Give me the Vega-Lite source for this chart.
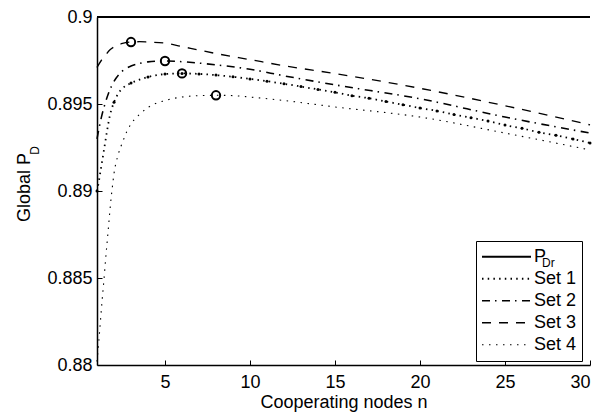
{
  "$schema": "https://vega.github.io/schema/vega-lite/v6.json",
  "width": 493,
  "height": 348,
  "autosize": {"type": "none"},
  "padding": {"left": 97, "top": 17, "right": 26, "bottom": 52},
  "config": {
    "view": {"stroke": null},
    "font": "Liberation Sans",
    "axis": {
      "grid": false,
      "domain": true,
      "domainColor": "#000",
      "domainWidth": 1.5,
      "tickColor": "#000",
      "tickWidth": 1,
      "tickSize": -5,
      "labelColor": "#000",
      "labelFont": "Liberation Sans",
      "labelFontSize": 18,
      "titleFont": "Liberation Sans",
      "titleFontSize": 18,
      "titleFontWeight": "normal",
      "titleColor": "#000"
    }
  },
  "datasets": {
    "curves": [
      {"n": 1, "y": 0.9, "series": "P_Dr"},
      {"n": 30, "y": 0.9, "series": "P_Dr"},
      {"n": 1, "y": 0.8900, "series": "Set 1"},
      {"n": 1.1, "y": 0.8905, "series": "Set 1"},
      {"n": 1.2, "y": 0.8911, "series": "Set 1"},
      {"n": 1.3, "y": 0.8917, "series": "Set 1"},
      {"n": 1.4, "y": 0.8923, "series": "Set 1"},
      {"n": 1.5, "y": 0.8929, "series": "Set 1"},
      {"n": 1.6, "y": 0.8935, "series": "Set 1"},
      {"n": 1.75, "y": 0.8943, "series": "Set 1"},
      {"n": 2, "y": 0.8951, "series": "Set 1"},
      {"n": 2.25, "y": 0.8956, "series": "Set 1"},
      {"n": 2.5, "y": 0.8959, "series": "Set 1"},
      {"n": 3, "y": 0.8962, "series": "Set 1"},
      {"n": 3.5, "y": 0.8964, "series": "Set 1"},
      {"n": 4, "y": 0.89655, "series": "Set 1"},
      {"n": 5, "y": 0.89672, "series": "Set 1"},
      {"n": 6, "y": 0.89676, "series": "Set 1"},
      {"n": 7, "y": 0.89673, "series": "Set 1"},
      {"n": 8, "y": 0.89666, "series": "Set 1"},
      {"n": 9, "y": 0.89656, "series": "Set 1"},
      {"n": 10, "y": 0.89644, "series": "Set 1"},
      {"n": 11, "y": 0.89631, "series": "Set 1"},
      {"n": 12, "y": 0.89616, "series": "Set 1"},
      {"n": 13, "y": 0.896, "series": "Set 1"},
      {"n": 14, "y": 0.89584, "series": "Set 1"},
      {"n": 15, "y": 0.89567, "series": "Set 1"},
      {"n": 16, "y": 0.89548, "series": "Set 1"},
      {"n": 17, "y": 0.89533, "series": "Set 1"},
      {"n": 18, "y": 0.89514, "series": "Set 1"},
      {"n": 19, "y": 0.89496, "series": "Set 1"},
      {"n": 20, "y": 0.89477, "series": "Set 1"},
      {"n": 21, "y": 0.8946, "series": "Set 1"},
      {"n": 22, "y": 0.89439, "series": "Set 1"},
      {"n": 23, "y": 0.89421, "series": "Set 1"},
      {"n": 24, "y": 0.89402, "series": "Set 1"},
      {"n": 25, "y": 0.89379, "series": "Set 1"},
      {"n": 26, "y": 0.8936, "series": "Set 1"},
      {"n": 27, "y": 0.89337, "series": "Set 1"},
      {"n": 28, "y": 0.8932, "series": "Set 1"},
      {"n": 29, "y": 0.89299, "series": "Set 1"},
      {"n": 30, "y": 0.89276, "series": "Set 1"},
      {"n": 1, "y": 0.8930, "series": "Set 2"},
      {"n": 1.25, "y": 0.8942, "series": "Set 2"},
      {"n": 1.5, "y": 0.8951, "series": "Set 2"},
      {"n": 1.75, "y": 0.8958, "series": "Set 2"},
      {"n": 2, "y": 0.8963, "series": "Set 2"},
      {"n": 2.5, "y": 0.8969, "series": "Set 2"},
      {"n": 3, "y": 0.89718, "series": "Set 2"},
      {"n": 3.5, "y": 0.89733, "series": "Set 2"},
      {"n": 4, "y": 0.89742, "series": "Set 2"},
      {"n": 5, "y": 0.89747, "series": "Set 2"},
      {"n": 6, "y": 0.89743, "series": "Set 2"},
      {"n": 7, "y": 0.89735, "series": "Set 2"},
      {"n": 8, "y": 0.89725, "series": "Set 2"},
      {"n": 10, "y": 0.897, "series": "Set 2"},
      {"n": 12, "y": 0.89662, "series": "Set 2"},
      {"n": 15, "y": 0.8961, "series": "Set 2"},
      {"n": 20, "y": 0.8953, "series": "Set 2"},
      {"n": 25, "y": 0.89425, "series": "Set 2"},
      {"n": 30, "y": 0.89333, "series": "Set 2"},
      {"n": 1, "y": 0.8971, "series": "Set 3"},
      {"n": 1.25, "y": 0.8975, "series": "Set 3"},
      {"n": 1.5, "y": 0.8978, "series": "Set 3"},
      {"n": 1.75, "y": 0.8981, "series": "Set 3"},
      {"n": 2, "y": 0.89828, "series": "Set 3"},
      {"n": 2.5, "y": 0.89848, "series": "Set 3"},
      {"n": 3, "y": 0.89856, "series": "Set 3"},
      {"n": 3.5, "y": 0.89858, "series": "Set 3"},
      {"n": 4, "y": 0.89856, "series": "Set 3"},
      {"n": 5, "y": 0.8985, "series": "Set 3"},
      {"n": 6, "y": 0.8983, "series": "Set 3"},
      {"n": 7, "y": 0.8981, "series": "Set 3"},
      {"n": 8, "y": 0.8979, "series": "Set 3"},
      {"n": 10, "y": 0.89755, "series": "Set 3"},
      {"n": 12, "y": 0.8972, "series": "Set 3"},
      {"n": 15, "y": 0.89675, "series": "Set 3"},
      {"n": 20, "y": 0.8959, "series": "Set 3"},
      {"n": 25, "y": 0.8949, "series": "Set 3"},
      {"n": 30, "y": 0.8938, "series": "Set 3"},
      {"n": 1, "y": 0.8802, "series": "Set 4"},
      {"n": 1.1, "y": 0.8813, "series": "Set 4"},
      {"n": 1.2, "y": 0.8825, "series": "Set 4"},
      {"n": 1.3, "y": 0.8837, "series": "Set 4"},
      {"n": 1.4, "y": 0.8848, "series": "Set 4"},
      {"n": 1.5, "y": 0.886, "series": "Set 4"},
      {"n": 1.6, "y": 0.8871, "series": "Set 4"},
      {"n": 1.7, "y": 0.8882, "series": "Set 4"},
      {"n": 1.8, "y": 0.8893, "series": "Set 4"},
      {"n": 1.9, "y": 0.8902, "series": "Set 4"},
      {"n": 2, "y": 0.891, "series": "Set 4"},
      {"n": 2.25, "y": 0.8921, "series": "Set 4"},
      {"n": 2.5, "y": 0.8928, "series": "Set 4"},
      {"n": 2.75, "y": 0.8934, "series": "Set 4"},
      {"n": 3, "y": 0.89385, "series": "Set 4"},
      {"n": 3.5, "y": 0.8944, "series": "Set 4"},
      {"n": 4, "y": 0.8948, "series": "Set 4"},
      {"n": 5, "y": 0.8952, "series": "Set 4"},
      {"n": 6, "y": 0.8954, "series": "Set 4"},
      {"n": 7, "y": 0.89548, "series": "Set 4"},
      {"n": 8, "y": 0.8955, "series": "Set 4"},
      {"n": 9, "y": 0.89548, "series": "Set 4"},
      {"n": 10, "y": 0.8954, "series": "Set 4"},
      {"n": 12, "y": 0.8952, "series": "Set 4"},
      {"n": 15, "y": 0.89483, "series": "Set 4"},
      {"n": 20, "y": 0.89425, "series": "Set 4"},
      {"n": 25, "y": 0.89333, "series": "Set 4"},
      {"n": 30, "y": 0.89236, "series": "Set 4"}
    ],
    "peaks": [
      {"n": 3, "y": 0.89856},
      {"n": 5, "y": 0.89747},
      {"n": 6, "y": 0.89676},
      {"n": 8, "y": 0.8955}
    ]
  },
  "layer": [
    {
      "data": {"name": "curves"},
      "mark": {"type": "line", "interpolate": "monotone", "clip": false, "color": "#000"},
      "encoding": {
        "x": {
          "field": "n", "type": "quantitative",
          "scale": {"domain": [1, 30], "nice": false, "zero": false},
          "axis": {"values": [5, 10, 15, 20, 25, 30], "labelPadding": 13, "title": "Cooperating nodes n", "titleBaseline": "alphabetic", "titleY": 42, "domain": true}
        },
        "y": {
          "field": "y", "type": "quantitative",
          "scale": {"domain": [0.88, 0.9], "nice": false, "zero": false},
          "axis": {"values": [0.88, 0.885, 0.89, 0.895, 0.9], "format": "~g", "labelPadding": 10, "title": "Global P", "titleX": -68, "titleY": 170, "titleBaseline": "alphabetic", "titleAngle": -90}
        },
        "strokeDash": {
          "field": "series", "type": "nominal",
          "scale": {"domain": ["P_Dr", "Set 1", "Set 2", "Set 3", "Set 4"], "range": [[1, 0], [1.5, 4.2], [8, 5, 1.5, 5.5], [9, 8], [1.5, 5.5]]},
          "legend": {
            "title": null,
            "orient": "none",
            "legendX": 379,
            "legendY": 224,
            "fillColor": "#fff",
            "strokeColor": "#000",
            "padding": 5,
            "symbolType": "stroke",
            "symbolSize": 2401,
            "symbolStrokeColor": "#000",
            "clipHeight": 21.5,
            "labelFontSize": 18,
            "labelColor": "#000",
            "labelOffset": 2,
            "rowPadding": 0,
            "labelExpr": "datum.label == 'P_Dr' ? 'P' : datum.label"
          }
        },
        "strokeWidth": {
          "field": "series", "type": "nominal",
          "scale": {"domain": ["P_Dr", "Set 1", "Set 2", "Set 3", "Set 4"], "range": [2, 1.1, 1.8, 2, 1.2]},
          "legend": null
        }
      }
    },
    {
      "data": {"name": "curves"},
      "transform": [{"filter": "datum.series == 'Set 1' && datum.n % 1 == 0"}],
      "mark": {"type": "point", "filled": true, "color": "#000", "size": 9, "opacity": 1},
      "encoding": {
        "x": {"field": "n", "type": "quantitative"},
        "y": {"field": "y", "type": "quantitative", "axis": null}
      }
    },
    {
      "data": {"name": "peaks"},
      "mark": {"type": "point", "filled": false, "color": "#000", "size": 70, "strokeWidth": 2},
      "encoding": {
        "x": {"field": "n", "type": "quantitative"},
        "y": {
          "field": "y", "type": "quantitative",
          "axis": {"orient": "left", "labels": false, "ticks": false, "domain": false, "title": "D", "titleFontSize": 12, "titleX": -59, "titleY": 133, "titleBaseline": "alphabetic", "titleAngle": -90}
        },
        "opacity": {
          "datum": "Dr", "type": "nominal",
          "scale": {"range": [1]},
          "legend": {
            "title": null,
            "orient": "none",
            "legendX": 433,
            "legendY": 240,
            "padding": 0,
            "symbolSize": 4,
            "symbolOpacity": 0,
            "symbolStrokeWidth": 0,
            "clipHeight": 12,
            "labelOffset": 0,
            "labelFontSize": 12,
            "labelColor": "#000"
          }
        }
      }
    }
  ],
  "resolve": {"axis": {"y": "independent"}}
}
